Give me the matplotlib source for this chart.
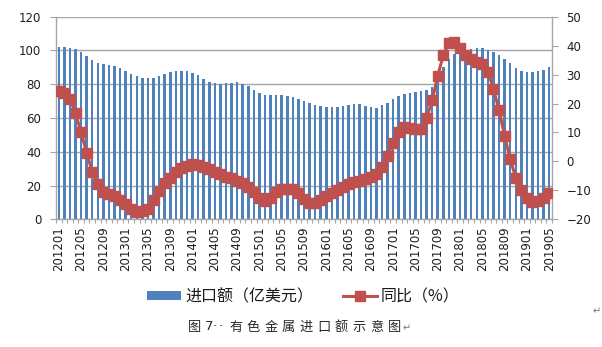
import numpy as np
import matplotlib
matplotlib.use("Agg")
import matplotlib.pyplot as plt
from matplotlib.patches import Patch
from matplotlib.lines import Line2D

plt.rcParams['font.family'] = ['DejaVu Sans', 'Noto Sans CJK SC']

# Import value (100 million USD), monthly 2012-01 .. 2019-05
imports = [102.1, 102.0, 101.4, 100.9, 99.1, 96.8, 94.4, 92.7, 92.1, 91.5,
           90.9, 89.7, 88.0, 86.2, 84.6, 83.8, 83.7, 83.9, 84.6, 85.8,
           87.2, 87.6, 87.9, 87.9, 86.7, 85.2, 83.1, 81.6, 80.9, 80.1,
           80.8, 80.9, 81.5, 79.9, 78.8, 76.7, 74.8, 73.6, 73.5, 73.5,
           73.5, 73.0, 72.4, 71.4, 70.1, 68.9, 67.7, 67.1, 66.6, 66.6,
           66.6, 67.1, 67.8, 68.3, 68.3, 67.1, 66.5, 66.0, 67.6, 68.9,
           71.4, 73.1, 74.3, 74.9, 75.2, 76.0, 76.8, 78.5, 82.0, 90.5,
           95.0, 98.2, 99.3, 100.0, 100.6, 101.5, 101.5, 100.3, 99.0, 97.2,
           95.0, 92.3, 89.7, 87.9, 87.3, 87.3, 87.7, 88.7, 90.3]

# Year-on-year change (%)
yoy = [24.3, 23.7, 21.5, 16.7, 10.1, 3.0, -3.7, -7.9, -10.5, -11.2,
       -12.0, -13.3, -14.8, -16.6, -17.4, -17.1, -16.4, -13.3, -10.2, -7.6,
       -5.6, -3.8, -2.2, -1.5, -1.0, -1.2, -1.8, -2.7, -3.8, -4.5,
       -5.3, -5.9, -6.8, -7.6, -8.7, -10.7, -12.8, -13.6, -12.8, -10.7,
       -9.5, -9.5, -9.6, -10.9, -13.1, -14.3, -14.3, -13.3, -11.8, -10.8,
       -9.9, -9.0, -7.8, -7.0, -6.7, -6.2, -5.3, -4.5, -2.0, 2.0,
       6.3, 10.0, 11.8, 11.7, 11.3, 11.1, 15.0, 21.2, 29.6, 36.8,
       40.8, 41.1, 39.3, 36.8, 35.3, 34.5, 33.7, 31.0, 25.1, 17.7,
       8.8, 0.7, -5.6, -9.9, -12.8, -13.9, -13.6, -12.5, -11.0]

tick_labels = ['201201', '201205', '201209', '201301', '201305', '201309',
               '201401', '201405', '201409', '201501', '201505', '201509',
               '201601', '201605', '201609', '201701', '201705', '201709',
               '201801', '201805', '201809', '201901', '201905']

bar_label = '进口额（亿美元）'
line_label = '同比（%）'
caption = '图 7··有色金属进口额示意图↵'

BLUE = '#4F81BD'
RED = '#C0504D'
GRID = '#A6A6A6'
TXT = '#1E1E1E'

W, H = 602, 347
fig = plt.figure(figsize=(W / 100, H / 100), dpi=100)
ax = fig.add_axes([56 / W, 1 - 219.3 / H, (552 - 56) / W, (219.3 - 16.7) / H])

x = np.arange(len(imports))
ax.bar(x, imports, width=0.45, color=BLUE, edgecolor='none', zorder=2)
ax.set_xlim(-0.5, len(imports) - 0.5)
ax.set_ylim(0, 120)
ax.set_yticks(np.arange(0, 121, 20))
ax.yaxis.grid(True, color=GRID, lw=1.0, zorder=0)
ax.set_axisbelow(True)

major_pos = x[::4]
ax.set_xticks(major_pos)
ax.set_xticklabels(tick_labels, rotation=90, fontsize=8.5, color=TXT)
ax.set_xticks(np.arange(-0.5, len(imports), 1), minor=True)
ax.tick_params(axis='x', which='major', length=0, pad=5)
ax.tick_params(axis='x', which='minor', length=3, color=GRID, width=0.8)
ax.tick_params(axis='y', length=4.5, color=GRID, labelsize=8.5, labelcolor=TXT, pad=6)

for s in ['top', 'right']:
    ax.spines[s].set_visible(False)
for s in ['left', 'bottom']:
    ax.spines[s].set_color(GRID)
    ax.spines[s].set_linewidth(1.0)

ax2 = ax.twinx()
ax2.plot(x, yoy, color=RED, lw=2.2, marker='s', markersize=6.8,
         markerfacecolor=RED, markeredgecolor=RED, zorder=3)
ax2.set_ylim(-20, 50)
ax2.set_yticks(np.arange(-20, 51, 10))
ax2.tick_params(axis='y', length=4.5, color=GRID, labelsize=8.5, labelcolor=TXT, pad=6)
for s in ['top', 'left', 'bottom']:
    ax2.spines[s].set_visible(False)
ax2.spines['right'].set_color(GRID)
ax2.spines['right'].set_linewidth(1.0)

handles = [Patch(facecolor=BLUE, edgecolor='none', label=bar_label),
           Line2D([0], [0], color=RED, lw=2.2, marker='s', markersize=6.8,
                  label=line_label)]
fig.legend(handles=handles, loc='center', bbox_to_anchor=(303.5 / W, 1 - 296.5 / H),
           ncol=2, frameon=False, handlelength=2.1,
           handleheight=0.55, handletextpad=0.25, columnspacing=1.9,
           borderpad=0, labelcolor='#1a1a1a',
           prop={'family': ['Noto Sans CJK SC', 'DejaVu Sans'], 'size': 11.5})

# caption, drawn character by character to mimic the wide letter spacing
cap_x = [188, 205, 213, 219]
cap_x += [229 + 17.6 * k for k in range(10)]
cap_x += [cap_x[-1] + 15]
cap_chars = [c for c in caption if c != ' ']
for ch, cx in zip(cap_chars, cap_x):
    is_mark = ch == '↵'
    narrow = ch in '7·'
    if is_mark or narrow:
        fam = ['DejaVu Sans']
    else:
        fam = ['Noto Sans CJK SC', 'DejaVu Sans']
    fig.text(cx / W, 1 - (328 if is_mark else 327) / H, ch, ha='left', va='center',
             fontsize=7 if is_mark else 9.5,
             color='#777777' if is_mark else '#2a2a2a', family=fam)

fig.text(597 / W, 1 - 311 / H, '↵', ha='center', va='center', fontsize=7,
         color='#777777', family=['DejaVu Sans'])

fig.savefig('out.png', dpi=100)
